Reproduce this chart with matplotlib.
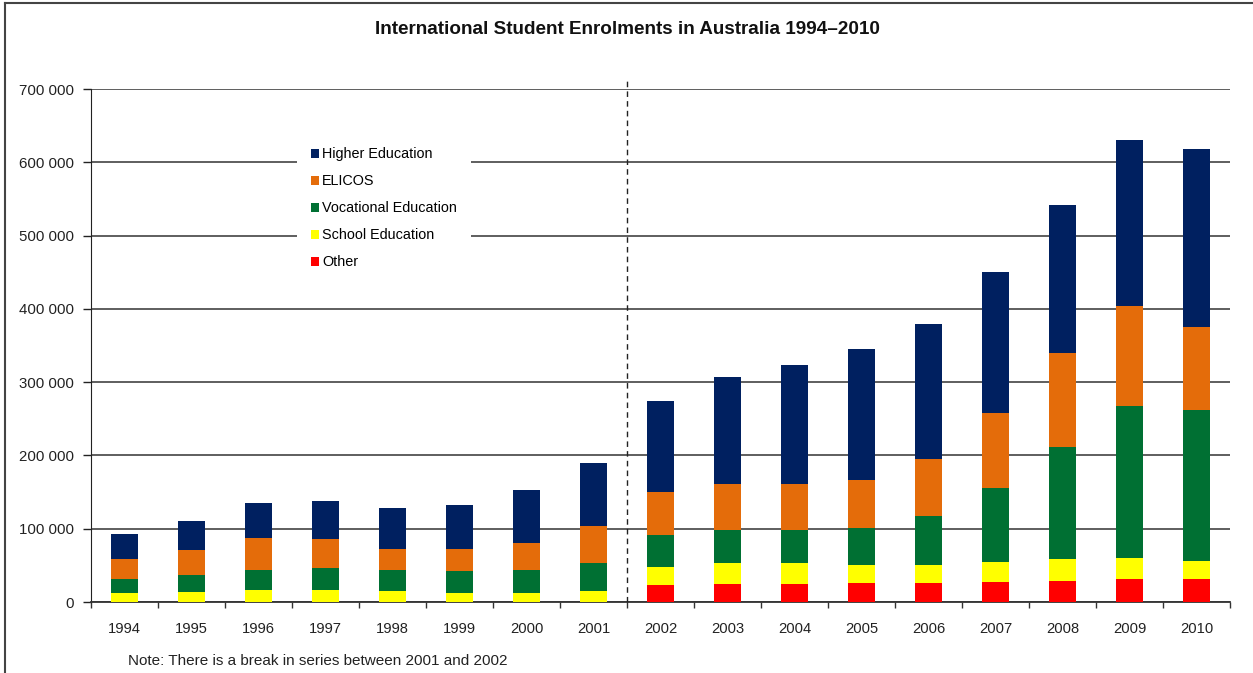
import matplotlib
matplotlib.use('Agg')
import matplotlib.pyplot as plt
import numpy as np
from matplotlib.patches import Patch
from matplotlib.lines import Line2D
from matplotlib.ticker import FuncFormatter, FixedLocator

plt.rcParams['font.family'] = ['Liberation Sans', 'DejaVu Sans']

years = [str(y) for y in range(1994, 2011)]

# enrolments
other = [0, 0, 0, 0, 0, 0, 0, 0,
         23200, 25000, 25000, 25500, 25500, 27300, 29100, 31000, 31000]
school = [11900, 13600, 16400, 16800, 14600, 12700, 12700, 15000,
          24100, 28000, 28000, 25400, 25000, 26800, 29600, 28600, 25000]
vocational = [19900, 22800, 27700, 30000, 29500, 29600, 30500, 38600,
              44100, 45000, 45000, 50500, 66800, 101400, 153200, 207400, 205500]
elicos = [26900, 34100, 43700, 38700, 27800, 30000, 36800, 50400,
          58200, 63000, 62500, 65500, 77400, 102800, 127800, 137300, 114300]
higher = [34300, 40500, 47200, 52500, 56800, 60500, 73200, 86000,
          124400, 146000, 163500, 177800, 185000, 191700, 201900, 225700, 242700]

series = [('Other', other, '#FF0000'),
          ('School Education', school, '#FFFF00'),
          ('Vocational Education', vocational, '#007033'),
          ('ELICOS', elicos, '#E46C0A'),
          ('Higher Education', higher, '#002060')]

fig = plt.figure(figsize=(12.53, 6.73), dpi=100)
ax = fig.add_axes([91/1253, 1 - 602/673, 1139/1253, 513/673])

x = np.arange(len(years))
bottom = np.zeros(len(years))
for name, vals, col in series:
    ax.bar(x, vals, 0.4, bottom=bottom, color=col, edgecolor='none', zorder=3)
    bottom += np.array(vals)

ax.set_xlim(-0.5, len(years) - 0.5)
ax.set_ylim(0, 700000)
ax.set_yticks(np.arange(0, 700001, 100000))
ax.yaxis.set_major_formatter(FuncFormatter(lambda v, p: '{:,}'.format(int(v)).replace(',', ' ')))
ax.grid(axis='y', color='#333333', linewidth=1.1, zorder=1)
ax.set_axisbelow(True)

ax.set_xticks(x)
ax.set_xticklabels(years)
ax.xaxis.set_minor_locator(FixedLocator(np.arange(-0.5, len(years), 1)))
ax.tick_params(axis='x', which='major', length=0, pad=14.5, labelsize=10.6, colors='#222222')
ax.tick_params(axis='x', which='minor', length=4, width=1, direction='out', color='#333333')
ax.tick_params(axis='y', length=6, width=1, pad=6.5, labelsize=10.8, colors='#222222')

for s in ['top', 'right']:
    ax.spines[s].set_visible(False)
ax.spines['left'].set_color('#222222')
ax.spines['bottom'].set_color('#333333')
ax.spines['bottom'].set_linewidth(1.3)

# break in series
ax.plot([7.5, 7.5], [0, 1.02], transform=ax.get_xaxis_transform(), color='#222222',
        linewidth=1, linestyle=(0, (4, 3)), clip_on=False, zorder=4)

handles = [Patch(facecolor=col, edgecolor='none', label=name) for name, vals, col in series[::-1]]
leg = ax.legend(handles=handles, loc='upper left', bbox_to_anchor=(0.181, 0.913),
                borderaxespad=0, borderpad=0.95, frameon=True, fancybox=False,
                handlelength=0.58, handleheight=0.58, handletextpad=0.2,
                labelspacing=0.9, fontsize=10.4)
leg.get_frame().set_facecolor('white')
leg.get_frame().set_edgecolor('none')
leg.get_frame().set_alpha(1)
leg.set_zorder(5)

fig.text(0.501, 1 - 30/673, 'International Student Enrolments in Australia 1994\u20132010',
         ha='center', va='center', fontsize=13.6, fontweight='bold', color='#111111')
fig.text(128/1253, 1 - 661/673, 'Note: There is a break in series between 2001 and 2002',
         ha='left', va='center', fontsize=11, color='#222222')

# outer frame
fig.add_artist(Line2D([5/1253, 1], [1 - 3/673, 1 - 3/673], color='#444444', linewidth=1.5))
fig.add_artist(Line2D([5/1253, 5/1253], [0, 1 - 3/673], color='#444444', linewidth=1.5))

fig.savefig('out.png', dpi=100)
